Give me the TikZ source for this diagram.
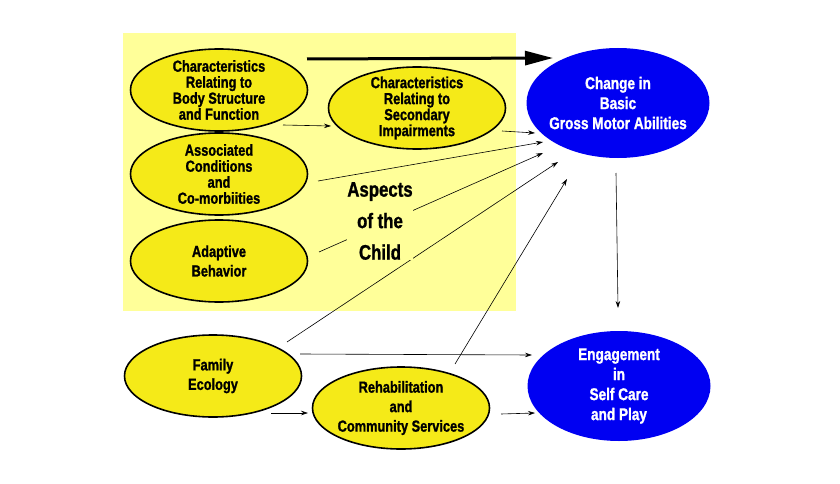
\documentclass[tikz,border=0pt]{standalone}
\usepackage{fontspec}
\setmainfont[FakeStretch=0.8, BoldFeatures={FakeBold=1.2}]{Liberation Sans}
\usetikzlibrary{shapes.geometric, arrows.meta, calc}

\definecolor{childbg}{RGB}{255,255,153}
\definecolor{ovalyellow}{RGB}{245,234,24}
\definecolor{ovalblue}{RGB}{0,0,242}

\begin{document}
\begin{tikzpicture}[x=1pt, y=-1pt,
    yoval/.style={ellipse, draw=black, line width=1.6pt, fill=ovalyellow,
      minimum width=177pt, minimum height=82pt, inner sep=-20pt, align=center,
      font=\bfseries\fontsize{16}{16}\selectfont},
    boval/.style={ellipse, fill=ovalblue, text=white, minimum width=183pt,
      minimum height=110pt, inner sep=-20pt, align=center,
      font=\bfseries\fontsize{17}{20}\selectfont},
    loose/.style={font=\bfseries\fontsize{16}{19.5}\selectfont},
    link/.style={-{Stealth[length=7pt,width=4.5pt]}, line width=0.6pt}]
  \useasboundingbox (0,0) rectangle (840,484);

  % aspects of the child
  \fill[childbg] (123,33) rectangle (516,311);

  \node[yoval] (body) at (219,90) {Characteristics\\Relating to\\Body Structure\\and Function};
  \node[yoval] (second) at (417,108) {Characteristics\\Relating to\\Secondary\\Impairments};
  \node[yoval] (assoc) at (219,174) {Associated\\Conditions\\and\\Co-morbiities};
  \node[yoval, loose] (adapt) at (219,261) {Adaptive\\Behavior};
  \node[yoval, loose] (family) at (213,376) {Family\\Ecology};
  \node[yoval, loose] (rehab) at (401,408) {Rehabilitation\\and\\Community Services};

  \node[boval] (change) at (618,103) {Change in\\Basic\\Gross Motor Abilities};
  \node[boval] (engage) at (619,386) {Engagement\\in\\Self Care\\and Play};

  % connectors
  \draw[-{Triangle[length=28pt,width=14pt]}, line width=3pt]
    ([shift={(88,-31)}]body.center) -- ([shift={(-65,-45)}]change.center);
  \draw[link] ([shift={(64,35)}]body.center) -- ([shift={(-86,18)}]second.center);
  \draw[link] ([shift={(85,23)}]second.center) -- ([shift={(-83,30)}]change.center);
  \draw[link] ([shift={(99,7)}]assoc.center) -- ([shift={(-75,39)}]change.center);
  \draw[link] ([shift={(100,-9)}]adapt.center) -- ([shift={(-75,50)}]change.center);
  \draw[link] ([shift={(74,-34)}]family.center) -- ([shift={(-60,59)}]change.center);
  \draw[link] ([shift={(54,-44)}]rehab.center) -- ([shift={(-51,76)}]change.center);
  \draw[link] ([shift={(-2,70)}]change.center) -- ([shift={(-1,-78)}]engage.center);
  \draw[link] ([shift={(87,-22)}]family.center) -- ([shift={(-87,-31)}]engage.center);
  \draw[link] ([shift={(58,37)}]family.center) -- ([shift={(-93,5)}]rehab.center);
  \draw[link] ([shift={(100,6)}]rehab.center) -- ([shift={(-84,27)}]engage.center);

  \node[fill=childbg, inner sep=0pt, align=center,
    font=\bfseries\fontsize{21}{31.5}\selectfont] (aspects) at (380,221) {Aspects\\of the\\Child};
\end{tikzpicture}
\end{document}
